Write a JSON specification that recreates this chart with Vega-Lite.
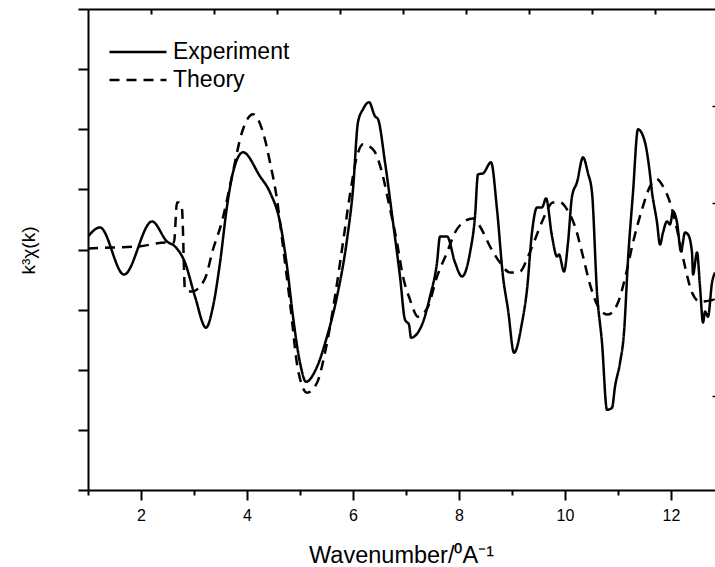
{
  "$schema": "https://vega.github.io/schema/vega-lite/v6.json",
  "width": 627,
  "height": 481,
  "autosize": {"type": "none"},
  "padding": {"left": 88, "top": 9, "right": 0, "bottom": 77},
  "background": "white",
  "config": {
    "view": {"stroke": null},
    "font": "Liberation Sans",
    "axis": {"domainColor": "black", "tickColor": "black", "domainWidth": 2, "tickWidth": 2, "labelColor": "black", "titleColor": "black", "grid": false, "labelFont": "Liberation Sans", "titleFont": "Liberation Sans", "titleFontWeight": "normal"}
  },
  "datasets": {
    "curves": [
      {"k": 1.000, "v": 0.217, "s": "Experiment"},
      {"k": 1.226, "v": 0.367, "s": "Experiment"},
      {"k": 1.679, "v": -0.417, "s": "Experiment"},
      {"k": 2.208, "v": 0.467, "s": "Experiment"},
      {"k": 2.491, "v": 0.133, "s": "Experiment"},
      {"k": 2.642, "v": 0.05, "s": "Experiment"},
      {"k": 2.830, "v": -0.217, "s": "Experiment"},
      {"k": 3.019, "v": -0.783, "s": "Experiment"},
      {"k": 3.226, "v": -1.3, "s": "Experiment"},
      {"k": 3.358, "v": -0.95, "s": "Experiment"},
      {"k": 3.491, "v": -0.217, "s": "Experiment"},
      {"k": 3.623, "v": 0.717, "s": "Experiment"},
      {"k": 3.736, "v": 1.283, "s": "Experiment"},
      {"k": 3.925, "v": 1.617, "s": "Experiment"},
      {"k": 4.245, "v": 1.217, "s": "Experiment"},
      {"k": 4.434, "v": 0.95, "s": "Experiment"},
      {"k": 4.623, "v": 0.45, "s": "Experiment"},
      {"k": 4.755, "v": -0.283, "s": "Experiment"},
      {"k": 4.868, "v": -1.117, "s": "Experiment"},
      {"k": 5.0, "v": -1.883, "s": "Experiment"},
      {"k": 5.113, "v": -2.2, "s": "Experiment"},
      {"k": 5.321, "v": -1.95, "s": "Experiment"},
      {"k": 5.509, "v": -1.45, "s": "Experiment"},
      {"k": 5.698, "v": -0.783, "s": "Experiment"},
      {"k": 5.887, "v": 0.167, "s": "Experiment"},
      {"k": 6.0, "v": 1.0, "s": "Experiment"},
      {"k": 6.094, "v": 2.117, "s": "Experiment"},
      {"k": 6.189, "v": 2.333, "s": "Experiment"},
      {"k": 6.302, "v": 2.45, "s": "Experiment"},
      {"k": 6.415, "v": 2.217, "s": "Experiment"},
      {"k": 6.472, "v": 2.167, "s": "Experiment"},
      {"k": 6.604, "v": 1.45, "s": "Experiment"},
      {"k": 6.755, "v": 0.45, "s": "Experiment"},
      {"k": 6.887, "v": -0.45, "s": "Experiment"},
      {"k": 6.981, "v": -1.167, "s": "Experiment"},
      {"k": 7.057, "v": -1.25, "s": "Experiment"},
      {"k": 7.094, "v": -1.467, "s": "Experiment"},
      {"k": 7.302, "v": -1.25, "s": "Experiment"},
      {"k": 7.453, "v": -0.783, "s": "Experiment"},
      {"k": 7.585, "v": -0.217, "s": "Experiment"},
      {"k": 7.642, "v": 0.217, "s": "Experiment"},
      {"k": 7.774, "v": 0.217, "s": "Experiment"},
      {"k": 7.925, "v": -0.217, "s": "Experiment"},
      {"k": 8.057, "v": -0.45, "s": "Experiment"},
      {"k": 8.208, "v": -0.05, "s": "Experiment"},
      {"k": 8.302, "v": 0.55, "s": "Experiment"},
      {"k": 8.358, "v": 1.25, "s": "Experiment"},
      {"k": 8.453, "v": 1.267, "s": "Experiment"},
      {"k": 8.604, "v": 1.45, "s": "Experiment"},
      {"k": 8.717, "v": 0.667, "s": "Experiment"},
      {"k": 8.830, "v": -0.45, "s": "Experiment"},
      {"k": 8.925, "v": -1.0, "s": "Experiment"},
      {"k": 9.038, "v": -1.717, "s": "Experiment"},
      {"k": 9.189, "v": -1.217, "s": "Experiment"},
      {"k": 9.283, "v": -0.667, "s": "Experiment"},
      {"k": 9.377, "v": 0.283, "s": "Experiment"},
      {"k": 9.472, "v": 0.7, "s": "Experiment"},
      {"k": 9.566, "v": 0.7, "s": "Experiment"},
      {"k": 9.642, "v": 0.85, "s": "Experiment"},
      {"k": 9.755, "v": 0.217, "s": "Experiment"},
      {"k": 9.849, "v": -0.117, "s": "Experiment"},
      {"k": 9.887, "v": -0.083, "s": "Experiment"},
      {"k": 9.981, "v": -0.367, "s": "Experiment"},
      {"k": 10.057, "v": 0.117, "s": "Experiment"},
      {"k": 10.132, "v": 0.883, "s": "Experiment"},
      {"k": 10.226, "v": 1.117, "s": "Experiment"},
      {"k": 10.340, "v": 1.533, "s": "Experiment"},
      {"k": 10.434, "v": 1.267, "s": "Experiment"},
      {"k": 10.509, "v": 0.95, "s": "Experiment"},
      {"k": 10.604, "v": -0.717, "s": "Experiment"},
      {"k": 10.698, "v": -1.55, "s": "Experiment"},
      {"k": 10.792, "v": -2.667, "s": "Experiment"},
      {"k": 10.887, "v": -2.633, "s": "Experiment"},
      {"k": 10.943, "v": -2.283, "s": "Experiment"},
      {"k": 11.038, "v": -1.883, "s": "Experiment"},
      {"k": 11.113, "v": -1.383, "s": "Experiment"},
      {"k": 11.189, "v": -0.167, "s": "Experiment"},
      {"k": 11.283, "v": 0.95, "s": "Experiment"},
      {"k": 11.377, "v": 2.0, "s": "Experiment"},
      {"k": 11.509, "v": 1.783, "s": "Experiment"},
      {"k": 11.585, "v": 1.383, "s": "Experiment"},
      {"k": 11.642, "v": 0.95, "s": "Experiment"},
      {"k": 11.736, "v": 0.45, "s": "Experiment"},
      {"k": 11.792, "v": 0.083, "s": "Experiment"},
      {"k": 11.849, "v": 0.283, "s": "Experiment"},
      {"k": 11.925, "v": 0.467, "s": "Experiment"},
      {"k": 11.981, "v": 0.417, "s": "Experiment"},
      {"k": 12.038, "v": 0.633, "s": "Experiment"},
      {"k": 12.113, "v": 0.45, "s": "Experiment"},
      {"k": 12.189, "v": -0.033, "s": "Experiment"},
      {"k": 12.264, "v": 0.283, "s": "Experiment"},
      {"k": 12.321, "v": 0.25, "s": "Experiment"},
      {"k": 12.396, "v": -0.05, "s": "Experiment"},
      {"k": 12.415, "v": -0.417, "s": "Experiment"},
      {"k": 12.491, "v": -0.05, "s": "Experiment"},
      {"k": 12.547, "v": -0.617, "s": "Experiment"},
      {"k": 12.604, "v": -1.217, "s": "Experiment"},
      {"k": 12.642, "v": -1.033, "s": "Experiment"},
      {"k": 12.698, "v": -1.117, "s": "Experiment"},
      {"k": 12.774, "v": -0.55, "s": "Experiment"},
      {"k": 12.830, "v": -0.383, "s": "Experiment"},
      {"k": 1.0, "v": 0.017, "s": "Theory"},
      {"k": 1.453, "v": 0.033, "s": "Theory"},
      {"k": 1.943, "v": 0.05, "s": "Theory"},
      {"k": 2.491, "v": 0.117, "s": "Theory"},
      {"k": 2.623, "v": 0.117, "s": "Theory"},
      {"k": 2.679, "v": 0.783, "s": "Theory"},
      {"k": 2.717, "v": 0.783, "s": "Theory"},
      {"k": 2.774, "v": 0.667, "s": "Theory"},
      {"k": 2.830, "v": -0.667, "s": "Theory"},
      {"k": 2.962, "v": -0.7, "s": "Theory"},
      {"k": 3.208, "v": -0.483, "s": "Theory"},
      {"k": 3.358, "v": 0.0, "s": "Theory"},
      {"k": 3.528, "v": 0.467, "s": "Theory"},
      {"k": 3.717, "v": 1.217, "s": "Theory"},
      {"k": 3.906, "v": 1.95, "s": "Theory"},
      {"k": 4.113, "v": 2.25, "s": "Theory"},
      {"k": 4.302, "v": 1.95, "s": "Theory"},
      {"k": 4.434, "v": 1.45, "s": "Theory"},
      {"k": 4.566, "v": 0.833, "s": "Theory"},
      {"k": 4.679, "v": 0.05, "s": "Theory"},
      {"k": 4.811, "v": -0.883, "s": "Theory"},
      {"k": 4.962, "v": -2.0, "s": "Theory"},
      {"k": 5.132, "v": -2.383, "s": "Theory"},
      {"k": 5.321, "v": -2.217, "s": "Theory"},
      {"k": 5.472, "v": -1.717, "s": "Theory"},
      {"k": 5.660, "v": -0.783, "s": "Theory"},
      {"k": 5.811, "v": 0.117, "s": "Theory"},
      {"k": 5.943, "v": 0.917, "s": "Theory"},
      {"k": 6.075, "v": 1.55, "s": "Theory"},
      {"k": 6.189, "v": 1.75, "s": "Theory"},
      {"k": 6.377, "v": 1.667, "s": "Theory"},
      {"k": 6.547, "v": 1.283, "s": "Theory"},
      {"k": 6.660, "v": 0.833, "s": "Theory"},
      {"k": 6.830, "v": 0.117, "s": "Theory"},
      {"k": 6.943, "v": -0.45, "s": "Theory"},
      {"k": 7.075, "v": -0.833, "s": "Theory"},
      {"k": 7.226, "v": -1.117, "s": "Theory"},
      {"k": 7.415, "v": -0.95, "s": "Theory"},
      {"k": 7.585, "v": -0.45, "s": "Theory"},
      {"k": 7.774, "v": -0.05, "s": "Theory"},
      {"k": 7.925, "v": 0.283, "s": "Theory"},
      {"k": 8.075, "v": 0.45, "s": "Theory"},
      {"k": 8.264, "v": 0.517, "s": "Theory"},
      {"k": 8.396, "v": 0.383, "s": "Theory"},
      {"k": 8.585, "v": 0.05, "s": "Theory"},
      {"k": 8.774, "v": -0.217, "s": "Theory"},
      {"k": 8.962, "v": -0.383, "s": "Theory"},
      {"k": 9.151, "v": -0.367, "s": "Theory"},
      {"k": 9.302, "v": -0.117, "s": "Theory"},
      {"k": 9.434, "v": 0.167, "s": "Theory"},
      {"k": 9.585, "v": 0.5, "s": "Theory"},
      {"k": 9.774, "v": 0.783, "s": "Theory"},
      {"k": 9.906, "v": 0.783, "s": "Theory"},
      {"k": 10.038, "v": 0.667, "s": "Theory"},
      {"k": 10.189, "v": 0.383, "s": "Theory"},
      {"k": 10.340, "v": -0.117, "s": "Theory"},
      {"k": 10.472, "v": -0.583, "s": "Theory"},
      {"k": 10.660, "v": -1.0, "s": "Theory"},
      {"k": 10.811, "v": -1.083, "s": "Theory"},
      {"k": 11.0, "v": -0.883, "s": "Theory"},
      {"k": 11.170, "v": -0.333, "s": "Theory"},
      {"k": 11.283, "v": 0.117, "s": "Theory"},
      {"k": 11.453, "v": 0.667, "s": "Theory"},
      {"k": 11.604, "v": 1.05, "s": "Theory"},
      {"k": 11.736, "v": 1.167, "s": "Theory"},
      {"k": 11.849, "v": 1.05, "s": "Theory"},
      {"k": 11.981, "v": 0.783, "s": "Theory"},
      {"k": 12.113, "v": 0.333, "s": "Theory"},
      {"k": 12.264, "v": -0.283, "s": "Theory"},
      {"k": 12.396, "v": -0.717, "s": "Theory"},
      {"k": 12.547, "v": -0.867, "s": "Theory"},
      {"k": 12.830, "v": -0.833, "s": "Theory"}
    ],
    "topAxis": [{"t": 0}],
    "rightAxis": [{"r": 0}]
  },
  "layer": [
    {
      "data": {"name": "curves"},
      "mark": {"type": "line", "strokeWidth": 2.5, "color": "black", "clip": true, "interpolate": "monotone"},
      "encoding": {
        "x": {
          "field": "k", "type": "quantitative",
          "scale": {"domain": [1, 12.83], "nice": false, "zero": false},
          "axis": {
            "orient": "bottom",
            "values": [1, 2, 3, 4, 5, 6, 7, 8, 9, 10, 11, 12],
            "labelExpr": "datum.value % 2 === 0 ? datum.label : ''",
            "tickSize": {"condition": {"test": "datum.value % 2 === 0", "value": 10}, "value": 5},
            "labelFontSize": 16,
            "labelPadding": 7,
            "labelFlush": false,
            "title": "Wavenumber/⁰A⁻¹",
            "titleFontSize": 23.5,
            "titleX": 313,
            "titleY": 72,
            "titleAnchor": "middle",
            "titleAlign": "center",
            "titleBaseline": "alphabetic"
          }
        },
        "y": {
          "field": "v", "type": "quantitative",
          "scale": {"domain": [-4, 4], "nice": false, "zero": false},
          "axis": {
            "orient": "left",
            "values": [-4, -3, -2, -1, 0, 1, 2, 3, 4],
            "labels": false,
            "tickSize": 10,
            "title": "k³χ(k)",
            "titleFontSize": 19,
            "titleAngle": -90,
            "titleX": -60,
            "titleY": 241,
            "titleAlign": "center",
            "titleBaseline": "middle"
          }
        },
        "strokeDash": {
          "field": "s", "type": "nominal",
          "scale": {"domain": ["Experiment", "Theory"], "range": [[1, 0], [10, 7]]},
          "legend": {
            "title": null,
            "orient": "none",
            "legendX": 20,
            "legendY": 29,
            "padding": 0,
            "symbolType": "stroke",
            "symbolSize": 3249,
            "symbolStrokeWidth": 2.5,
            "symbolStrokeColor": "black",
            "clipHeight": 28,
            "rowPadding": 0,
            "labelFontSize": 23,
            "labelColor": "black",
            "labelFont": "Liberation Sans",
            "labelOffset": 5
          }
        }
      }
    },
    {
      "data": {"name": "topAxis"},
      "mark": {"type": "point", "opacity": 0},
      "encoding": {
        "x": {
          "field": "t", "type": "quantitative",
          "scale": {"domain": [0, 9.952], "nice": false, "zero": false},
          "axis": {"orient": "top", "values": [1, 2, 3, 4, 5, 6, 7, 8, 9], "labels": false, "tickSize": -5, "title": null}
        }
      }
    },
    {
      "data": {"name": "rightAxis"},
      "mark": {"type": "point", "opacity": 0},
      "encoding": {
        "y": {
          "field": "r", "type": "quantitative",
          "scale": {"domain": [0, 4.984], "nice": false, "zero": false},
          "axis": {"orient": "right", "values": [0.979, 1.979, 2.979, 3.979], "labels": false, "domain": false, "tickSize": -3, "tickWidth": 1.5, "title": null}
        }
      }
    }
  ],
  "resolve": {"scale": {"x": "independent", "y": "independent"}}
}
